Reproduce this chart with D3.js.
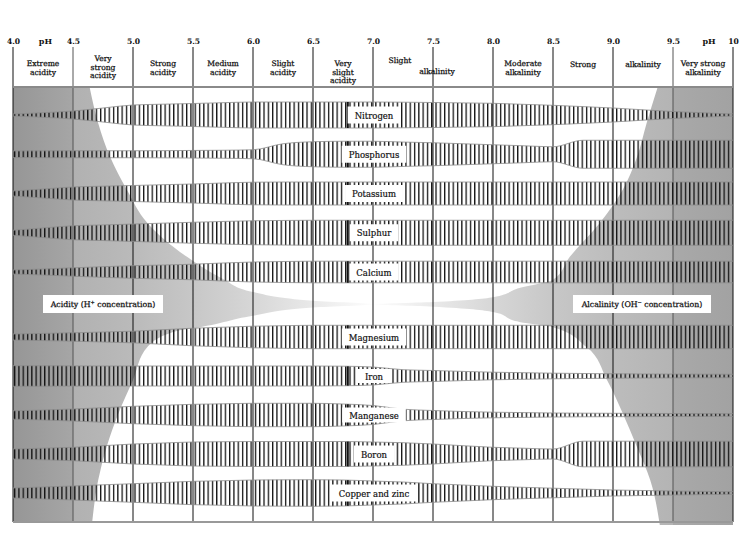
<!DOCTYPE html>
<html><head><meta charset="utf-8">
<script src="https://cdn.jsdelivr.net/npm/d3@7"></script>
<style>body{margin:0;background:#fff}svg{display:block}</style>
</head><body><svg id="c" width="751" height="557"></svg>
<script>
// ---------- DATA ----------
const phTicks = [4.0, 4.5, 5.0, 5.5, 6.0, 6.5, 7.0, 7.5, 8.0, 8.5, 9.0, 9.5, 10];
const tickLabels = ["4.0", "4.5", "5.0", "5.5", "6.0", "6.5", "7.0", "7.5", "8.0", "8.5", "9.0", "9.5", "10"];
const categories = [
  { from: 4.0, to: 4.5, lines: ["Extreme", "acidity"] },
  { from: 4.5, to: 5.0, lines: ["Very", "strong", "acidity"] },
  { from: 5.0, to: 5.5, lines: ["Strong", "acidity"] },
  { from: 5.5, to: 6.0, lines: ["Medium", "acidity"] },
  { from: 6.0, to: 6.5, lines: ["Slight", "acidity"] },
  { from: 6.5, to: 7.0, lines: ["Very", "slight", "acidity"] },
  { from: 7.0, to: 8.0, lines: ["Slight", "alkalinity"] },
  { from: 8.0, to: 8.5, lines: ["Moderate", "alkalinity"] },
  { from: 8.5, to: 9.5, lines: ["Strong", "alkalinity"] },
  { from: 9.5, to: 10, lines: ["Very strong", "alkalinity"] }
];
const nutrients = ["Nitrogen", "Phosphorus", "Potassium", "Sulphur", "Calcium",
  "Magnesium", "Iron", "Manganese", "Boron", "Copper and zinc"];
// pH sampling of the availability bands (4.0 .. 10.0 in 0.25 steps)
const phSteps = d3.range(4, 10.001, 0.25);
// relative availability (band half-thickness, arbitrary units)
const nitrogen   = [1, 2.3, 4, 7, 10, 10.8, 11.5, 12.3, 13, 13, 13, 13, 13, 12.8, 12.5, 12.1, 11.7, 10.7, 9.7, 8.4, 7, 5.2, 3.5, 2.2, 1];
const phosphorus = [3.3, 3.4, 3.5, 3.5, 3.5, 3.6, 3.8, 4, 4.5, 10.5, 12.5, 13, 13, 12.2, 11.5, 10.5, 9.5, 8.5, 7.5, 14, 14, 14, 14, 14, 14];
const potassium  = [2.5, 4.5, 6.5, 7.3, 8, 8.8, 9.5, 10.5, 11.3, 11.5, 11.5, 11.5, 11.5, 11.5, 11.5, 11.5, 11.5, 11.5, 11.5, 11.5, 11.5, 11.5, 11.5, 11.5, 11.5];
const sulphur    = [2.5, 4.8, 7, 7.8, 8.7, 9.6, 10.5, 11.3, 12, 12.3, 12.5, 12.5, 12.5, 12.5, 12.5, 12.5, 12.5, 12.5, 12.5, 12.5, 12.5, 12.5, 12.5, 12.5, 12.5];
const calcium    = [2, 3, 4.2, 5.3, 6.3, 7, 7.8, 9, 10, 10.5, 10.8, 10.8, 10.8, 10.8, 10.8, 10.8, 10.8, 10.8, 10.8, 10.8, 10.8, 10.8, 10.8, 10.8, 10.8];
const magnesium  = [3, 3.6, 4.2, 5, 5.8, 7.3, 8.8, 9.8, 10.8, 11.3, 11.7, 11.7, 11.7, 11.7, 11.7, 11.7, 11.7, 11.7, 11.7, 11.7, 11.7, 11.7, 11.7, 11.7, 11.7];
const iron       = [10.3, 10.2, 10.1, 10, 10, 10, 10, 10, 10, 10, 10, 9.8, 9, 6.3, 5.5, 4.6, 3.8, 3.3, 2.8, 2.5, 2.2, 2, 1.9, 1.8, 1.7];
const manganese  = [4.2, 5, 6, 7.3, 8.7, 9.7, 10.7, 11.2, 11.7, 11.7, 11.7, 11, 9.5, 5.8, 4.5, 3.5, 2.8, 2.4, 2, 1.8, 1.7, 1.6, 1.5, 1.4, 1.3];
const boron      = [5, 5.8, 6.7, 8.3, 10, 11, 12, 12.3, 12.5, 12.5, 12.5, 12.5, 12, 11.3, 10, 8.3, 6.7, 5.8, 5, 12.8, 12.8, 12.8, 12.8, 12.8, 12.8];
const copperZinc = [5, 6, 7, 8.2, 9.3, 10.5, 11.7, 12.3, 13, 13.2, 13.3, 13, 12, 11, 9.3, 8, 6.7, 5.7, 4.8, 3.9, 3, 2.5, 2, 1.6, 1.3];
const bandValues = [nitrogen, phosphorus, potassium, sulphur, calcium, magnesium, iron, manganese, boron, copperZinc];
// acidity / alkalinity intensity edges: [pH, fraction of chart depth]
const acidEdge = [[4.64, 0], [4.71, 0.081], [4.81, 0.159], [4.95, 0.235], [5.12, 0.311], [5.45, 0.389],
  [5.75, 0.44], [6.0, 0.47], [6.5, 0.49], [7.0, 0.4985], [6.5, 0.506], [6.0, 0.525], [5.56, 0.551],
  [5.39, 0.558], [5.12, 0.597], [5.0, 0.673], [4.88, 0.749], [4.78, 0.827], [4.71, 0.903], [4.66, 1.0]];
const alkEdge = [[9.37, 0], [9.28, 0.081], [9.2, 0.159], [9.08, 0.235], [8.89, 0.311], [8.64, 0.389],
  [8.5, 0.442], [8.22, 0.461], [8.0, 0.482], [7.5, 0.493], [7.0, 0.4985], [7.5, 0.504], [8.0, 0.516],
  [8.22, 0.539], [8.5, 0.551], [8.78, 0.597], [8.95, 0.673], [9.08, 0.749], [9.2, 0.827], [9.31, 0.903], [9.39, 1.007]];

// ---------- DRAW ----------
const svg = d3.select("#c");
const x = d3.scaleLinear().domain([4, 10]).range([13, 733]);
const yRow = d3.scaleLinear().domain([0, 4, 5, 9]).range([115, 272, 337, 493]);
const yFrac = d3.scaleLinear().domain([0, 1]).range([88, 522]);
const w = d3.scaleLinear().domain([0, 14]).range([0, 14]);
const serif = "'DejaVu Serif', 'Liberation Serif', serif";

const defs = svg.append("defs");
function grad(id, x1, x2, stops) {
  const g = defs.append("linearGradient").attr("id", id).attr("gradientUnits", "userSpaceOnUse")
    .attr("x1", x1).attr("x2", x2).attr("y1", 0).attr("y2", 0);
  stops.forEach(s => g.append("stop").attr("offset", s[0]).attr("stop-color", s[1]));
}
grad("gAcid", x(4), x(7), [[0, "#969696"], [0.166, "#a6a6a6"], [0.167, "#b1b1b1"], [0.33, "#bababa"],
  [0.5, "#c7c7c7"], [0.67, "#d7d7d7"], [0.83, "#e9e9e9"], [1, "#fdfdfd"]]);
grad("gAlk", x(10), x(7), [[0, "#a2a2a2"], [0.166, "#a9a9a9"], [0.167, "#b4b4b4"], [0.33, "#bcbcbc"],
  [0.5, "#c7c7c7"], [0.67, "#d7d7d7"], [0.83, "#e9e9e9"], [1, "#fdfdfd"]]);
const pat = defs.append("pattern").attr("id", "hatch").attr("patternUnits", "userSpaceOnUse")
  .attr("x", x(4) + 1).attr("y", 0).attr("width", 4.3).attr("height", 20);
pat.append("rect").attr("x", 0).attr("y", 0).attr("width", 1.3).attr("height", 20).attr("fill", "#111");

// shaded intensity areas
const edgeLine = d3.line().x(d => x(d[0])).y(d => yFrac(d[1])).curve(d3.curveMonotoneY);
svg.append("path")
  .attr("d", `M${x(4)},${yFrac(0)}L` + edgeLine(acidEdge).slice(1) + `L${x(4)},${yFrac(1)}Z`)
  .attr("fill", "url(#gAcid)");
svg.append("path")
  .attr("d", `M${x(10)},${yFrac(0)}L` + edgeLine(alkEdge).slice(1) + `L${x(10)},${yFrac(1.007)}Z`)
  .attr("fill", "url(#gAlk)");

// grid / frame
svg.append("g").selectAll("line").data(phTicks).join("line")
  .attr("x1", d => x(d)).attr("x2", d => x(d)).attr("y1", 47).attr("y2", yFrac(1))
  .attr("stroke", d => (d === 4.5 || d === 9.5) ? "#555" : "#111").attr("stroke-width", 1);
svg.append("line").attr("x1", x(4)).attr("x2", x(10)).attr("y1", 87).attr("y2", 87)
  .attr("stroke", "#8a8a8a").attr("stroke-width", 2);
svg.append("line").attr("x1", x(4)).attr("x2", x(10)).attr("y1", yFrac(1)).attr("y2", yFrac(1))
  .attr("stroke", "#999").attr("stroke-width", 2);

// axis labels (top)
const axis = svg.append("g").attr("transform", "translate(0,44)")
  .call(d3.axisTop(x).tickValues(phTicks).tickFormat((d, i) => tickLabels[i]).tickSize(0).tickPadding(0));
axis.select(".domain").remove();
axis.selectAll("text").attr("font-family", serif).attr("font-size", 7.6).attr("font-weight", "bold")
  .attr("fill", "#111").attr("dy", 0);
[4.27, 9.8].forEach(p => svg.append("text").attr("x", x(p)).attr("y", 44).attr("text-anchor", "middle")
  .attr("font-family", serif).attr("font-size", 8).attr("font-weight", "bold").attr("fill", "#111").text("pH"));

// header categories
const hdr = svg.append("g").attr("font-family", serif).attr("font-size", 7.6).attr("fill", "#111")
  .attr("stroke", "#111").attr("stroke-width", 0.25).attr("text-anchor", "middle");
categories.forEach((c, i) => {
  const mid = x((c.from + c.to) / 2);
  let pos;
  if (c.to - c.from > 0.6 && c.from === 7.0) pos = [[mid - 33, 63], [mid + 4, 74]];
  else if (c.to - c.from > 0.6) pos = [[x(c.from + 0.25), 67], [x(c.to - 0.25), 67]];
  else if (c.lines.length === 3) { const b = c.from === 6.5 ? 66 : 61; pos = [[mid, b], [mid, b + 8.5], [mid, b + 17]]; }
  else pos = [[mid, 65.5], [mid, 75]];
  c.lines.forEach((t, j) => hdr.append("text").attr("x", pos[j][0]).attr("y", pos[j][1]).text(t));
});

// nutrient bands
const bands = svg.append("g");
nutrients.forEach((name, i) => {
  const yc = yRow(i);
  const vals = bandValues[i];
  const data = phSteps.map((p, k) => ({ ph: p, v: vals[k] }));
  const area = d3.area().x(d => x(d.ph)).y0(d => yc - w(d.v)).y1(d => yc + w(d.v)).curve(d3.curveMonotoneX);
  bands.append("path").attr("d", area(data)).attr("fill", "url(#hatch)")
    .attr("stroke", "#8c8c8c").attr("stroke-width", 0.8);
  const interp = d3.scaleLinear().domain(phSteps).range(vals);
  const hw = w(interp(6.79));
  bands.append("rect").attr("x", x(6.79) - 1).attr("width", 2).attr("y", yc - hw).attr("height", 2 * hw).attr("fill", "#111");
  const g = bands.append("g");
  const box = g.append("rect").attr("fill", "#fff");
  const txt = g.append("text").attr("x", x(7) + 1).attr("y", yc + 0.5).attr("text-anchor", "middle")
    .attr("dominant-baseline", "central").attr("font-family", serif).attr("font-size", 8.5)
    .attr("fill", "#111").attr("stroke", "#111").attr("stroke-width", 0.2).text(name);
  const len = txt.node().getComputedTextLength();
  const bh = Math.min(8.5, w(interp(7)) - 2);
  box.attr("x", x(7) + 1 - len / 2 - 7).attr("width", len + 14).attr("y", yc - bh).attr("height", 2 * bh);
});

// acidity / alkalinity labels
function concLabel(cx, main, ion, sign, rest, bw) {
  const g = svg.append("g");
  g.append("rect").attr("x", cx - bw / 2).attr("y", 295).attr("width", bw).attr("height", 18).attr("fill", "#fff");
  const t = g.append("text").attr("x", cx).attr("y", 307).attr("text-anchor", "middle")
    .attr("font-family", serif).attr("font-size", 7.8).attr("fill", "#111")
    .attr("stroke", "#111").attr("stroke-width", 0.25);
  t.append("tspan").text(main + ion);
  t.append("tspan").attr("baseline-shift", "super").attr("font-size", 5).text(sign);
  t.append("tspan").text(rest);
}
concLabel(103, "Acidity (", "H", "+", " concentration)", 120);
concLabel(642, "Alcalinity (", "OH", "−", " concentration)", 138);
</script></body></html>
